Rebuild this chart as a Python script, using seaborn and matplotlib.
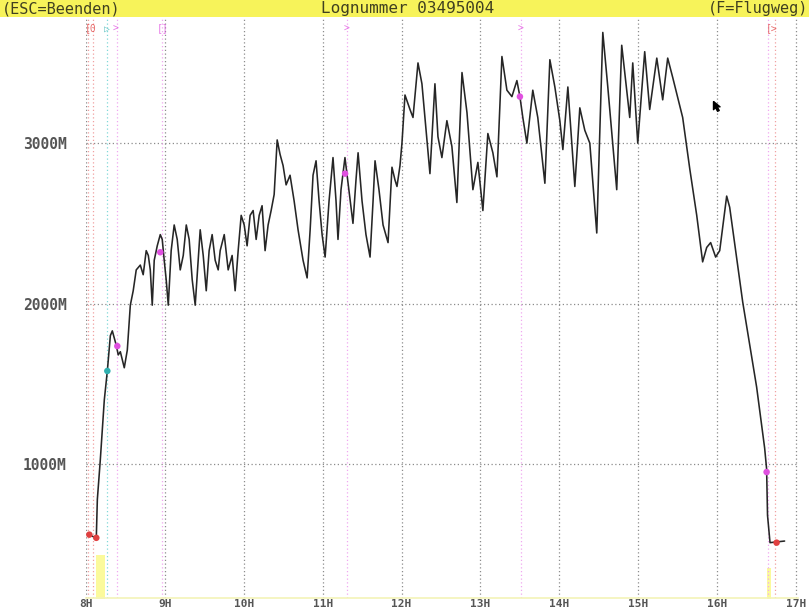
import matplotlib
matplotlib.use("Agg")
import numpy as np
import pandas as pd
import seaborn as sns
import matplotlib.pyplot as plt
from matplotlib.patches import Rectangle
from matplotlib.transforms import blended_transform_factory

# ---------------- data ----------------
# minutes after 08:00 and altitude in metres (barogram trace)
minutes = [1.5, 7.6, 8.4, 10.6, 13.7, 16.0, 18.3, 19.8, 22.8, 24.3, 25.9, 28.9, 31.2, 33.5, 35.7,
           38.0, 41.1, 43.3, 45.6, 47.2, 48.7, 50.2, 51.7, 54.0, 56.3, 57.8, 59.3, 60.8, 62.4,
           64.6, 66.9, 69.2, 71.5, 73.8, 76.1, 78.3, 80.6, 82.9, 85.2, 86.7, 89.0, 91.3, 93.5,
           95.8, 98.1, 100.4, 101.9, 105.0, 108.0, 111.0, 113.3, 115.6, 117.9, 120.2, 122.4,
           124.7, 127.0, 129.3, 131.6, 133.8, 136.1, 138.4, 140.7, 143.0, 145.3, 147.5, 149.8,
           152.1, 155.1, 158.2, 161.2, 165.0, 168.1, 170.4, 172.6, 174.9, 177.2, 179.5, 181.8,
           184.8, 187.8, 190.1, 191.6, 193.9, 196.9, 199.9, 203.0, 205.3, 206.9, 209.9, 212.9,
           216.0, 218.3, 219.8, 222.8, 225.9, 229.7, 232.7, 235.0, 236.5, 238.8, 240.3, 242.6,
           246.4, 248.7, 252.5, 255.5, 259.3, 261.6, 265.4, 267.7, 270.7, 274.5, 278.3, 282.1,
           286.0, 289.8, 294.3, 298.1, 301.9, 305.7, 309.5, 312.6, 316.4, 320.2, 324.0, 327.8,
           330.1, 332.3, 335.4, 339.9, 343.7, 349.1, 352.9, 356.7, 360.5, 362.8, 366.6, 371.9,
           375.7, 379.5, 383.3, 388.6, 393.2, 397.0, 403.8, 407.6, 413.7, 416.0, 419.8, 425.1,
           428.9, 434.3, 438.8, 442.6, 446.4, 454.0, 459.4, 464.7, 469.2, 472.3, 475.3, 479.1,
           482.2, 487.5, 489.8, 499.7, 510.3, 516.4, 517.9, 518.6, 520.5, 531.6]
altitude = [560, 540, 780, 1020, 1400, 1580, 1800, 1830, 1740, 1680, 1700, 1600, 1710, 1990, 2080,
            2210, 2240, 2180, 2330, 2300, 2210, 1990, 2270, 2360, 2430, 2400, 2270, 2150, 1990,
            2330, 2490, 2400, 2210, 2300, 2490, 2400, 2150, 1990, 2270, 2460, 2300, 2080, 2330,
            2430, 2270, 2210, 2330, 2430, 2210, 2300, 2080, 2330, 2550, 2490, 2360,
            2550, 2580, 2400, 2550, 2610, 2330, 2490, 2580, 2680, 3020, 2930, 2860,
            2740, 2800, 2640, 2460, 2270, 2160, 2460, 2800, 2890, 2640, 2430, 2290,
            2640, 2910, 2640, 2400, 2710, 2910, 2710, 2500, 2770, 2940, 2640, 2430,
            2290, 2640, 2890, 2710, 2490, 2380, 2850, 2770, 2730, 2860, 3000, 3300,
            3210, 3160, 3500, 3370, 3020, 2810, 3370, 3040, 2910, 3140, 2980, 2630,
            3440, 3190, 2710, 2880, 2580, 3060, 2940, 2790, 3540, 3330, 3290, 3390,
            3290, 3160, 3000, 3330, 3160, 2750, 3520, 3350, 3140, 2960, 3350, 2730,
            3220, 3080, 3000, 2440, 3690, 3350, 2710, 3610, 3160, 3500, 3000, 3570,
            3210, 3530, 3270, 3530, 3410, 3160, 2840, 2550, 2260, 2350, 2380, 2290,
            2330, 2670, 2600, 2010, 1480, 1100, 970, 680, 510, 520]

# event markers on the trace
marker_minutes = [2.3, 7.6, 16.0, 23.6, 56.3, 197.0, 330.1, 517.9, 525.5]
marker_altitude = [560, 540, 1580, 1735, 2320, 2810, 3290, 950, 510]
marker_kind = ["start", "start", "release", "turn", "turn", "turn", "turn", "turn", "finish"]

# event lines with their top glyphs
event_minutes = [1.5, 5.3, 16.0, 23.6, 57.8, 198.5, 330.8, 518.7, 524.0]
event_kind = ["start", "start", "release", "turn", "turn", "turn", "turn", "turn", "finish"]
glyph_minutes = [3.5, 16.0, 22.0, 57.8, 198.5, 330.8, 521.5]
glyph_text = ["[0", "\u25b7", ">", "[]", ">", ">", "[>"]
glyph_kind = ["start", "release", "turn", "turn", "turn", "turn", "finish"]

# engine/noise bars at the bottom (minutes start, end, top altitude)
bar_start = [7.0, 518.5]
bar_end = [14.5, 521.5]
bar_top = [433, 350]

cursor_minute = [476.8]
cursor_alt = [3260]

hour_ticks = list(range(8, 18))
hour_labels = [f"{h}H" for h in hour_ticks]
alt_ticks = [1000, 2000, 3000]
alt_labels = ["1000M", "2000M", "3000M"]

title_left = "(ESC=Beenden)"
title_mid = "Lognummer 03495004"
title_right = "(F=Flugweg)"

# ---------------- drawing ----------------
sns.set_theme(style="white")
plt.rcParams["font.family"] = ["DejaVu Sans Mono", "DejaVu Sans"]

kind_color = {"start": "#e04040", "release": "#30b0b0", "turn": "#e050e0", "finish": "#e04040"}
line_color = {"start": "#f0a0a0", "release": "#80d8d8", "turn": "#f0a8f0", "finish": "#f0a0a0"}

fig = plt.figure(figsize=(8.09, 6.13), dpi=100)
fig.patch.set_facecolor("white")
ax = fig.add_axes([86 / 809, 15 / 613, 712 / 809, 580 / 613])
ax.set_facecolor("white")

df = pd.DataFrame({"hour": 8 + np.array(minutes) / 60.0, "alt": altitude})

# bottom yellow bars
for s, e, t in zip(bar_start, bar_end, bar_top):
    ax.fill_between([8 + s / 60, 8 + e / 60], 150, t, color="#fbfa9c", lw=0, zorder=1)

# event lines
for m, k in zip(event_minutes, event_kind):
    ax.axvline(8 + m / 60, color=line_color[k], ls=(0, (1, 2)), lw=0.9, zorder=1)

sns.lineplot(data=df, x="hour", y="alt", color="#262626", lw=1.15, ax=ax,
             sort=False, estimator=None, zorder=3)

mdf = pd.DataFrame({"hour": 8 + np.array(marker_minutes) / 60.0,
                    "alt": marker_altitude, "kind": marker_kind})
sns.scatterplot(data=mdf, x="hour", y="alt", hue="kind", palette=kind_color,
                marker="o", s=22, linewidth=0, ax=ax, legend=False, zorder=4)

cursor_marker = [(0, 0), (0, -10), (2.5, -7.5), (5, -12), (7, -11), (4.5, -6.5), (8, -6.5), (0, 0)]
ax.scatter(8 + np.array(cursor_minute) / 60.0, cursor_alt, marker=cursor_marker, s=200,
           color="black", zorder=5)

trans = blended_transform_factory(ax.transData, ax.transAxes)
for m, g, k in zip(glyph_minutes, glyph_text, glyph_kind):
    ax.text(8 + m / 60, 0.982, g, transform=trans, ha="center", va="center",
            fontsize=7, color=kind_color[k], alpha=0.75)

ax.set_xlim(7.996, 17.03)
ax.set_ylim(165, 3780)
ax.set_xticks(hour_ticks)
ax.set_xticklabels(hour_labels)
ax.set_yticks(alt_ticks)
ax.set_yticklabels(alt_labels)
ax.grid(True, color="#8c8c8c", ls=(0, (1, 2)), lw=0.9)
ax.set_axisbelow(True)
ax.set_xlabel("")
ax.set_ylabel("")
for sp in ["top", "left", "right"]:
    ax.spines[sp].set_visible(False)
ax.spines["bottom"].set_color("#f3f3b8")
ax.spines["bottom"].set_linewidth(1.2)
ax.tick_params(axis="y", length=13, width=0.9, color="#a0a0a0", pad=1,
               labelsize=10.5, labelcolor="#555555")
ax.tick_params(axis="x", length=0, pad=0.5, labelsize=8, labelcolor="#555555")
for lab in ax.get_yticklabels() + ax.get_xticklabels():
    lab.set_fontweight("bold")

# yellow title bar
fig.patches.append(Rectangle((0, 596 / 613), 1, 17 / 613, transform=fig.transFigure,
                             facecolor="#f7f35a", edgecolor="none", zorder=0))
ty = 1 - 8.5 / 613
fig.text(2 / 809, ty, title_left, ha="left", va="center", fontsize=11, color="#404020")
fig.text(408 / 809, ty, title_mid, ha="center", va="center", fontsize=11.5, color="#404020")
fig.text(808 / 809, ty, title_right, ha="right", va="center", fontsize=11, color="#404020")

fig.savefig("out.png", dpi=100, facecolor="white")
